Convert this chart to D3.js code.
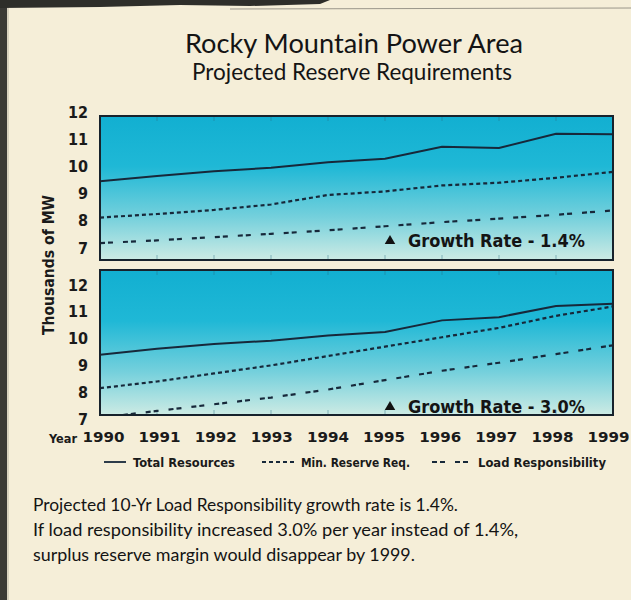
<!DOCTYPE html>
<html><head><meta charset="utf-8">
<script src="https://cdn.jsdelivr.net/npm/d3@7"></script>
<style>
html,body{margin:0;padding:0;background:#f5eed8;}
svg{display:block;}
</style></head>
<body>
<svg id="chart" width="631" height="600"></svg>
<script>
// ---- data ----
const years = [1990,1991,1992,1993,1994,1995,1996,1997,1998,1999];
const yTicks = [7,8,9,10,11,12];
const seriesNames = ["Total Resources","Min. Reserve Req.","Load Responsibility"];
// Panel 1: growth rate 1.4%
const total14   = [9.45,9.65,9.82,9.95,10.15,10.28,10.72,10.68,11.2,11.18];
const reserve14 = [8.12,8.25,8.4,8.6,8.95,9.08,9.3,9.4,9.58,9.8];
const load14    = [7.18,7.28,7.4,7.52,7.65,7.8,7.95,8.08,8.22,8.38];
// Panel 2: growth rate 3.0%
const total30   = [9.4,9.62,9.8,9.92,10.12,10.25,10.68,10.8,11.22,11.3];
const reserve30 = [8.15,8.4,8.7,9.0,9.35,9.7,10.05,10.4,10.85,11.2];
const load30    = [7.05,7.3,7.55,7.8,8.1,8.45,8.8,9.1,9.42,9.75];
const panelLabels = ["Growth Rate - 1.4%","Growth Rate - 3.0%"];
const footerLines = [
  "Projected 10-Yr Load Responsibility growth rate is 1.4%.",
  "If load responsibility increased 3.0% per year instead of 1.4%,",
  "surplus reserve margin would disappear by 1999."
];

// ---- styles ----
const svg = d3.select("#chart");
const LINE = "#17283a";
const styles = [
  {dash:null, width:2},
  {dash:"4,3", width:2.2},
  {dash:"5,3,5,10", width:2.2}
];
const condensed = "'Liberation Sans Narrow','DejaVu Sans Condensed','Arial Narrow',sans-serif";
const humanist = "Lato,'Open Sans',sans-serif";

function fit(sel, target){
  sel.each(function(){
    const n=this; let fs=parseFloat(n.getAttribute("font-size"));
    for(let i=0;i<3;i++){ const w=n.getComputedTextLength(); if(w>0){ fs*=target/w; n.setAttribute("font-size",fs.toFixed(2)); } }
  });
}

// background details (scan edges)
svg.append("rect").attr("width",631).attr("height",600).attr("fill","#f5eed8");
svg.append("rect").attr("x",0).attr("y",0).attr("width",7).attr("height",600).attr("fill","#3a3a36");
svg.append("rect").attr("x",7).attr("y",0).attr("width",2).attr("height",600).attr("fill","#d8d2bf");
svg.append("path").attr("d","M0,0 L330,0 L320,4 L250,6 L180,5 L100,7 L0,8 Z").attr("fill","#2e2e2a");
svg.append("line").attr("x1",230).attr("x2",631).attr("y1",9).attr("y2",8).attr("stroke","#9a968a").attr("stroke-width",1);

// gradient
const defs = svg.append("defs");
const grad = defs.append("linearGradient").attr("id","pg").attr("x1",0).attr("x2",0).attr("y1",0).attr("y2",1);
grad.append("stop").attr("offset","0%").attr("stop-color","#12afd1");
grad.append("stop").attr("offset","35%").attr("stop-color","#1fb8d6");
grad.append("stop").attr("offset","70%").attr("stop-color","#74d0dc");
grad.append("stop").attr("offset","100%").attr("stop-color","#cdebe4");

// titles
const t1 = svg.append("text").attr("x",354).attr("y",53).attr("text-anchor","middle")
  .attr("font-family",humanist).attr("font-size",23).attr("fill","#141414").text("Rocky Mountain Power Area");
fit(t1,338);
const t2 = svg.append("text").attr("x",352).attr("y",80).attr("text-anchor","middle")
  .attr("font-family",humanist).attr("font-size",19).attr("fill","#141414").text("Projected Reserve Requirements");
fit(t2,320);

// y axis title
const yl = svg.append("text").attr("transform","translate(54,265) rotate(-90)").attr("text-anchor","middle")
  .attr("font-family",condensed).attr("font-weight","bold").attr("font-size",16).attr("fill","#1a1a1a").text("Thousands of MW");
fit(yl,140);

const x = d3.scaleLinear().domain([1990,1999]).range([100,613]);
const xLab = d3.scaleLinear().domain([1990,1999]).range([103,608]);

const panels = [
  {top:116,bottom:260,yr:[248,112],data:[total14,reserve14,load14],label:panelLabels[0],ly:247},
  {top:270,bottom:415,yr:[419,285],data:[total30,reserve30,load30],label:panelLabels[1],ly:413}
];

panels.forEach((p,i)=>{
  const y = d3.scaleLinear().domain([7,12]).range(p.yr);
  const g = svg.append("g");
  const cid = "clip"+i;
  defs.append("clipPath").attr("id",cid).append("rect")
    .attr("x",x(1990)).attr("y",p.top).attr("width",x(1999)-x(1990)).attr("height",p.bottom-p.top);
  g.append("rect").attr("x",x(1990)).attr("y",p.top).attr("width",x(1999)-x(1990)).attr("height",p.bottom-p.top)
    .attr("fill","url(#pg)");
  // faint year ticks
  g.selectAll(".tk").data(years.slice(1,-1)).join("g").each(function(d){
    d3.select(this).append("line").attr("x1",x(d)).attr("x2",x(d)).attr("y1",p.top).attr("y2",p.top+5)
      .attr("stroke","#2a6c80").attr("stroke-opacity",0.45).attr("stroke-width",1);
    d3.select(this).append("line").attr("x1",x(d)).attr("x2",x(d)).attr("y1",p.bottom).attr("y2",p.bottom-5)
      .attr("stroke","#2a6c80").attr("stroke-opacity",0.45).attr("stroke-width",1);
  });
  const line = d3.line().x((d,k)=>x(years[k])).y(d=>y(d));
  const lg = g.append("g").attr("clip-path",`url(#${cid})`);
  p.data.forEach((s,k)=>{
    lg.append("path").datum(s).attr("d",line).attr("fill","none").attr("stroke",LINE)
      .attr("stroke-width",styles[k].width).attr("stroke-dasharray",styles[k].dash);
  });
  g.append("rect").attr("x",x(1990)).attr("y",p.top).attr("width",x(1999)-x(1990)).attr("height",p.bottom-p.top)
    .attr("fill","none").attr("stroke","#17222c").attr("stroke-width",2);
  // y axis labels
  const ax = svg.append("g").attr("transform","translate(88,0)")
    .call(d3.axisLeft(y).tickValues(yTicks).tickSize(0).tickPadding(0).tickFormat(d3.format("d")));
  ax.select(".domain").remove();
  ax.selectAll("text").attr("font-family",condensed).attr("font-weight","bold").attr("font-size",16).attr("fill","#1a1a1a");
  // annotation
  svg.append("path").attr("d",d3.symbol(d3.symbolTriangle,48)()).attr("transform",`translate(390,${p.ly-6})`).attr("fill","#111");
  const at = svg.append("text").attr("x",408).attr("y",p.ly).attr("font-family",condensed).attr("font-weight","bold")
    .attr("font-size",17).attr("fill","#141414").text(p.label);
  fit(at,177);
});

// x axis labels
const xa = svg.append("g").attr("transform","translate(0,432)")
  .call(d3.axisBottom(xLab).tickValues(years).tickSize(0).tickPadding(0).tickFormat(d3.format("d")));
xa.select(".domain").remove();
xa.selectAll("text").attr("font-family",condensed).attr("font-weight","bold").attr("font-size",14)
  .attr("textLength",42).attr("lengthAdjust","spacingAndGlyphs").attr("fill","#1a1a1a");
const yr = svg.append("text").attr("x",63).attr("y",443).attr("text-anchor","middle").attr("font-family",condensed)
  .attr("font-weight","bold").attr("font-size",13).attr("fill","#1a1a1a").text("Year");
fit(yr,28);

// legend
const legend = [
  {x1:104,x2:126,tx:133,tw:102},
  {x1:262,x2:296,tx:301,tw:109},
  {x1:432,x2:470,tx:478,tw:128}
];
legend.forEach((l,k)=>{
  svg.append("line").attr("x1",l.x1).attr("x2",l.x2).attr("y1",462).attr("y2",462).attr("stroke",LINE)
    .attr("stroke-width",1.8).attr("stroke-dasharray",styles[k].dash);
  const t = svg.append("text").attr("x",l.tx).attr("y",467).attr("font-family",condensed).attr("font-weight","bold")
    .attr("font-size",13).attr("fill","#1a1a1a").text(seriesNames[k]);
  fit(t,l.tw);
});

// footer
const fw = [425,485,382];
footerLines.forEach((s,k)=>{
  const t = svg.append("text").attr("x",33).attr("y",511+k*25).attr("font-family",humanist)
    .attr("font-size",17).attr("fill","#141414").text(s);
  fit(t,fw[k]);
});
</script>
</body></html>
